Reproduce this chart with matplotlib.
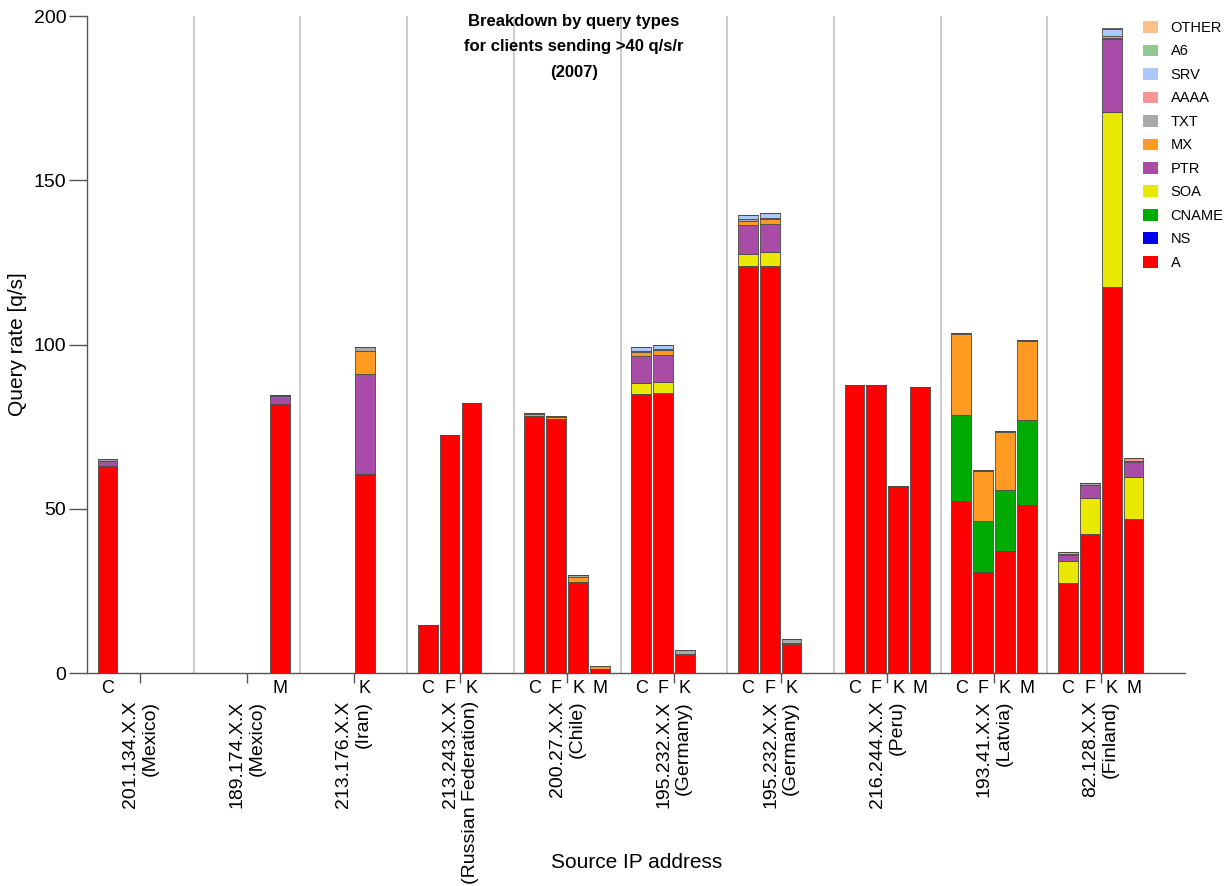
import matplotlib
matplotlib.use("Agg")
import matplotlib.pyplot as plt
from matplotlib.patches import Patch
import numpy as np

plt.rcParams['font.family'] = ['Liberation Sans', 'DejaVu Sans']

# Source address groups (x-axis major labels)
groups = [
    "201.134.X.X\n(Mexico)",
    "189.174.X.X\n(Mexico)",
    "213.176.X.X\n(Iran)",
    "213.243.X.X\n(Russian Federation)",
    "200.27.X.X\n(Chile)",
    "195.232.X.X\n(Germany)",
    "195.232.X.X\n(Germany)",
    "216.244.X.X\n(Peru)",
    "193.41.X.X\n(Latvia)",
    "82.128.X.X\n(Finland)",
]
servers = ["C", "F", "K", "M"]

# One entry per bar: which group and which root server
bar_group = [0, 1, 2, 3, 3, 3, 4, 4, 4, 4, 5, 5, 5, 6, 6, 6,
             7, 7, 7, 7, 8, 8, 8, 8, 9, 9, 9, 9]
bar_server = ["C", "M", "K", "C", "F", "K", "C", "F", "K", "M", "C", "F", "K",
              "C", "F", "K", "C", "F", "K", "M", "C", "F", "K", "M",
              "C", "F", "K", "M"]

# Query rate per type [q/s], one value per bar
q_A = [63.0, 82.0, 60.6, 14.6, 72.6, 82.2, 78.3, 77.4, 27.8, 1.2, 84.8, 85.1, 5.5,
       123.8, 124.0, 8.7, 87.7, 87.7, 56.9, 87.2, 52.4, 30.8, 37.1, 51.2,
       27.3, 42.3, 117.6, 47.0]
q_NS = [0.0] * 28
q_CNAME = [0, 0, 0, 0, 0, 0, 0, 0, 0, 0, 0, 0, 0, 0, 0, 0, 0, 0, 0, 0,
           26.2, 15.6, 18.6, 25.7, 0, 0, 0, 0]
q_SOA = [0, 0, 0, 0, 0, 0, 0, 0, 0, 0, 3.6, 3.6, 0, 3.9, 4.1, 0, 0, 0, 0, 0,
         0, 0, 0, 0, 6.8, 10.9, 53.3, 12.6]
q_PTR = [1.6, 2.3, 30.4, 0, 0, 0, 0, 0, 0, 0, 8.1, 8.0, 0, 8.7, 8.7, 0, 0, 0, 0, 0,
         0, 0, 0, 0, 1.9, 3.9, 22.0, 4.6]
q_MX = [0, 0, 7.1, 0, 0, 0, 0.6, 0.6, 1.5, 0.8, 1.1, 1.6, 0.4, 1.3, 1.5, 0.5, 0, 0, 0, 0,
        24.6, 15.1, 17.8, 24.3, 0, 0, 0, 0]
q_TXT = [0.4, 0.3, 1.2, 0, 0, 0, 0.3, 0.3, 0.4, 0.2, 0.4, 0.2, 1.0, 0.4, 0.2, 1.2,
         0, 0, 0, 0, 0.3, 0.3, 0.3, 0.3, 0.3, 0.6, 0.3, 0.3]
q_AAAA = [0, 0, 0, 0, 0, 0, 0, 0, 0, 0, 0, 0, 0, 0, 0, 0, 0, 0, 0, 0,
          0, 0, 0, 0, 0.4, 0, 0.8, 0.9]
q_SRV = [0, 0, 0, 0, 0, 0, 0, 0, 0, 0, 1.3, 1.2, 0, 1.3, 1.4, 0, 0, 0, 0, 0,
         0, 0, 0, 0, 0, 0, 2.0, 0]
q_A6 = [0.0] * 28
q_OTHER = [0, 0, 0, 0, 0, 0, 0, 0, 0, 0, 0, 0, 0, 0, 0, 0, 0, 0, 0, 0,
           0, 0, 0, 0, 0, 0, 0.3, 0]

qtypes = ["A", "NS", "CNAME", "SOA", "PTR", "MX", "TXT", "AAAA", "SRV", "A6", "OTHER"]
colors = ["#ff0000", "#0000ee", "#00aa00", "#e8e800", "#a84ca8", "#ff9a22",
          "#aaaaaa", "#ff9494", "#aac8f8", "#92c892", "#ffc08c"]
series = [q_A, q_NS, q_CNAME, q_SOA, q_PTR, q_MX, q_TXT, q_AAAA, q_SRV, q_A6, q_OTHER]

fig = plt.figure(figsize=(12.28, 8.86), dpi=100)
ax = fig.add_axes([87 / 1228, 1 - 673 / 886, (1185 - 87) / 1228, (673 - 16) / 886])

slot = 0.205
width = 0.185
xpos = np.array([g + (servers.index(s) - 1.5) * slot for g, s in zip(bar_group, bar_server)])

bottom = np.zeros(len(xpos))
for name, col, vals in zip(qtypes, colors, series):
    vals = np.asarray(vals, dtype=float)
    ax.bar(xpos, vals, width=width, bottom=bottom, color=col,
           edgecolor="#4a4a4a", linewidth=0.6, zorder=3)
    bottom += vals

# group separators
for k in range(len(groups) - 1):
    ax.axvline(k + 0.5, color="#c4c4c4", linewidth=1.2, zorder=1)

ax.set_xlim(-0.5, 9.79)
ax.set_ylim(0, 200)
ax.set_yticks([0, 50, 100, 150, 200])
ax.tick_params(axis="y", length=13, width=1, color="#555555", pad=2, labelsize=14)

ax.set_xticks(np.arange(len(groups)))
ax.set_xticklabels(groups, rotation=90, ha="center", va="top", multialignment="right",
                   fontsize=14)
ax.tick_params(axis="x", which="major", length=7, width=1, color="#555555", pad=13)
ax.set_xticks(xpos, minor=True)
ax.set_xticklabels(bar_server, minor=True, fontsize=13)
ax.tick_params(axis="x", which="minor", length=0, pad=5)

for side in ("top", "right"):
    ax.spines[side].set_visible(False)
for side in ("left", "bottom"):
    ax.spines[side].set_color("#555555")
    ax.spines[side].set_linewidth(1.0)

ax.set_ylabel("Query rate [q/s]", fontsize=15)
ax.yaxis.set_label_coords((27 - 87) / 1098, 0.5)
fig.text(637 / 1228, 1 - 862 / 886, "Source IP address", ha="center", va="center",
         fontsize=15)

fig.text(574 / 1228, 1 - 47 / 886,
         "Breakdown by query types\nfor clients sending >40 q/s/r\n(2007)",
         ha="center", va="center", fontsize=12, fontweight="bold", linespacing=1.9)

handles = [Patch(facecolor=c, edgecolor="none") for c in colors][::-1]
ax.legend(handles, qtypes[::-1], loc="upper left",
          bbox_to_anchor=(1143 / 1228, 1 - 21 / 886), bbox_transform=fig.transFigure,
          frameon=False, fontsize=10.5, handlelength=1.0, handleheight=0.85,
          handletextpad=0.9, labelspacing=0.65, borderpad=0, borderaxespad=0)

fig.savefig("out.png", dpi=100)
